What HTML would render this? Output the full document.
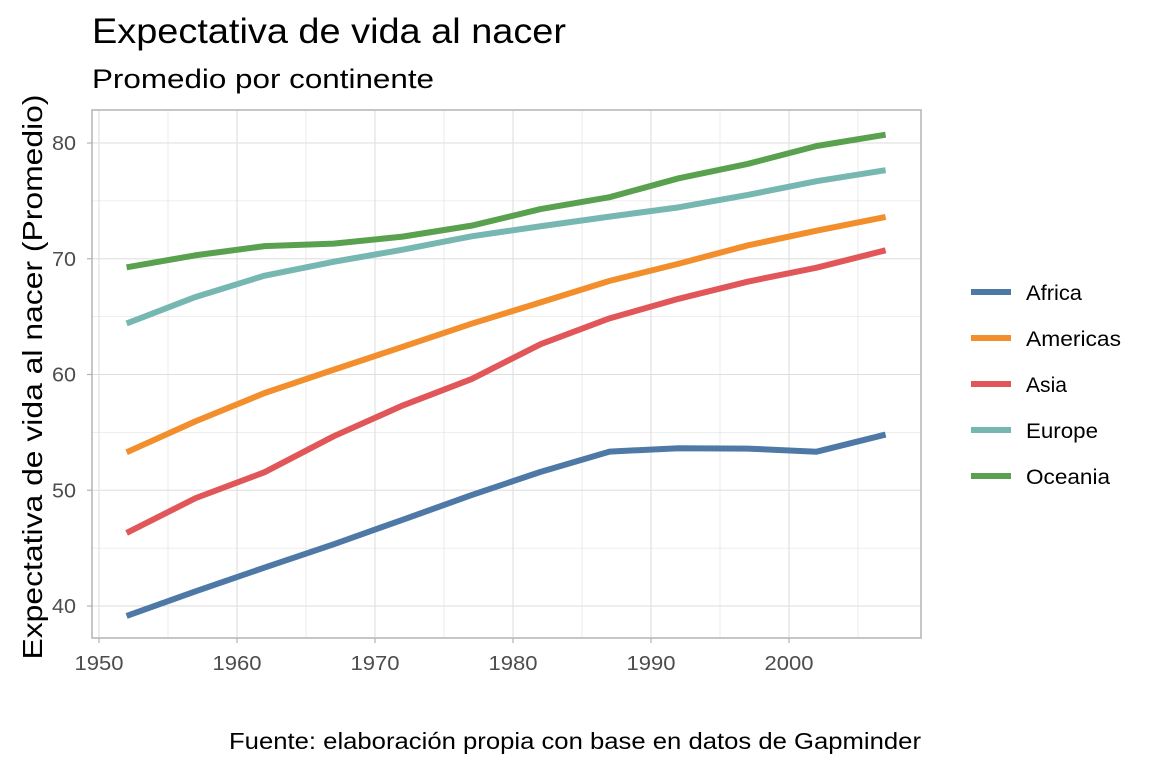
<!DOCTYPE html>
<html><head><meta charset="utf-8"><style>
body{margin:0;background:#fff;font-family:"Liberation Sans",sans-serif;}
</style></head><body>
<svg width="1152" height="768" xmlns="http://www.w3.org/2000/svg" font-family="Liberation Sans, sans-serif">
<text x="92" y="43" font-size="35" textLength="474" lengthAdjust="spacingAndGlyphs" fill="#000">Expectativa de vida al nacer</text>
<text x="92" y="88" font-size="27" textLength="342" lengthAdjust="spacingAndGlyphs" fill="#000">Promedio por continente</text>
<text transform="translate(42,377) rotate(-90)" text-anchor="middle" font-size="28" textLength="565" lengthAdjust="spacingAndGlyphs" fill="#000">Expectativa de vida al nacer (Promedio)</text>
<text x="921" y="749" text-anchor="end" font-size="23" textLength="692" lengthAdjust="spacingAndGlyphs" fill="#000">Fuente: elaboración propia con base en datos de Gapminder</text>
<g id="grid"></g>
<g id="series"></g>
<rect x="92" y="110" width="829" height="528" fill="none" stroke="#b3b3b3" stroke-width="1.5"/>
<g id="axes"></g>
<g id="legend"></g>
</svg>
<script>
const years=[1952,1957,1962,1967,1972,1977,1982,1987,1992,1997,2002,2007];
const continents=["Africa","Americas","Asia","Europe","Oceania"];
const africa=[39.14,41.27,43.32,45.33,47.45,49.58,51.59,53.34,53.63,53.60,53.33,54.81];
const americas=[53.28,55.96,58.40,60.41,62.39,64.39,66.23,68.09,69.57,71.15,72.42,73.61];
const asia=[46.31,49.32,51.56,54.66,57.32,59.61,62.62,64.85,66.54,68.02,69.23,70.73];
const europe=[64.41,66.70,68.54,69.74,70.78,71.94,72.81,73.64,74.44,75.51,76.70,77.65];
const oceania=[69.26,70.30,71.09,71.31,71.91,72.86,74.29,75.32,76.95,78.19,79.74,80.72];
const xTicks=[1950,1960,1970,1980,1990,2000];
const yTicks=[40,50,60,70,80];
const colors=["#4e79a7","#f28e2b","#e15759","#76b7b2","#59a14f"];
const seriesData=[africa,americas,asia,europe,oceania];
const NS="http://www.w3.org/2000/svg";
const X=v=>99+(v-1950)*13.8;
const Y=v=>606-(v-40)*11.575;
function mk(tag,attrs,parent){const e=document.createElementNS(NS,tag);for(const k in attrs)e.setAttribute(k,attrs[k]);parent.appendChild(e);return e;}
const grid=document.getElementById('grid'),axes=document.getElementById('axes'),ser=document.getElementById('series'),leg=document.getElementById('legend');
for(let v=1950;v<=2005;v+=5){const l=mk('line',{x1:X(v),x2:X(v),y1:110,y2:637,stroke:'#dedede','stroke-width':v%10?0.6:1.1},grid);

}
for(let v=35;v<=85;v+=5){const y=Y(v);if(y<110||y>637)continue;const l=mk('line',{x1:92,x2:921,y1:y,y2:y,stroke:'#dedede','stroke-width':v%10?0.6:1.1},grid);

}
xTicks.forEach(t=>{mk('line',{x1:X(t),x2:X(t),y1:638,y2:643,stroke:'#b3b3b3','stroke-width':1.2},axes);
const tx=mk('text',{x:X(t),y:670,'text-anchor':'middle','font-size':20,textLength:49,lengthAdjust:'spacingAndGlyphs',fill:'#4d4d4d'},axes);tx.textContent=t;

});
yTicks.forEach(t=>{mk('line',{x1:87,x2:92,y1:Y(t),y2:Y(t),stroke:'#b3b3b3','stroke-width':1.2},axes);
const tx=mk('text',{x:76,y:Y(t)+7,'text-anchor':'end','font-size':20,textLength:24,lengthAdjust:'spacingAndGlyphs',fill:'#4d4d4d'},axes);tx.textContent=t;

});
const legW=[56,95,41,72,84];
seriesData.forEach((d,i)=>{const p=mk('polyline',{points:d.map((v,j)=>X(years[j])+','+Y(v)).join(' '),fill:'none',stroke:colors[i],'stroke-width':6,'stroke-linejoin':'round'},ser);


const ly=292+i*46;
const k=mk('line',{x1:971,x2:1011,y1:ly,y2:ly,stroke:colors[i],'stroke-width':6},leg);


const t=mk('text',{x:1026,y:ly+8,'font-size':21,textLength:legW[i],lengthAdjust:'spacingAndGlyphs',fill:'#000'},leg);t.textContent=continents[i];

});
</script>
</body></html>
